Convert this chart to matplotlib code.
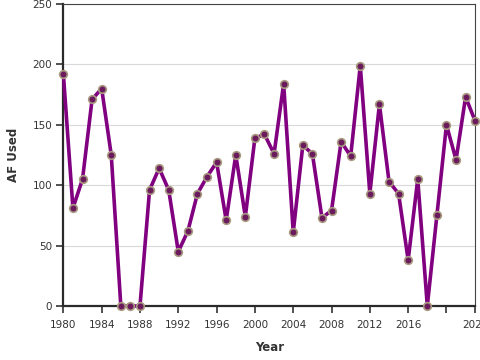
import numpy as np
import matplotlib
matplotlib.use("Agg")
import matplotlib.pyplot as plt

# Yearly water use (acre-feet)
years = list(range(1980, 2024))
af_used = [192, 81, 105, 171, 180, 125, 0, 0, 0, 96,
           114, 96, 45, 62, 93, 107, 119, 71, 125, 74,
           139, 142, 126, 184, 61, 133, 126, 73, 79, 136,
           124, 199, 93, 167, 103, 93, 38, 105, 0, 75,
           150, 121, 173, 153]

x_ticks = list(range(1980, 2021, 4)) + [2023]
x_tick_labels = [str(t) for t in range(1980, 2020, 4)] + ["", "2023"]
y_ticks = [0, 50, 100, 150, 200, 250]

fig = plt.figure(figsize=(4.8, 3.6), dpi=100)
ax = fig.add_axes([0.132, 0.15, 0.858, 0.839])

ax.plot(years, af_used, color="#800080", linewidth=2.6, zorder=3,
        marker="o", markersize=5.5, markerfacecolor="#6b1a5e",
        markeredgecolor="#a89a80", markeredgewidth=1.2, clip_on=False)

ax.set_xlim(1980, 2023)
ax.set_ylim(0, 250)
ax.set_xticks(x_ticks)
ax.set_xticklabels(x_tick_labels)
ax.set_yticks(y_ticks)
ax.grid(axis="y", color="#d9d9d9", linewidth=0.8, zorder=0)

for side in ["top", "right"]:
    ax.spines[side].set_color("#444444")
    ax.spines[side].set_linewidth(0.8)
for side in ["left", "bottom"]:
    ax.spines[side].set_color("#2a2a2a")
    ax.spines[side].set_linewidth(1.6)

ax.tick_params(axis="both", labelsize=7.5, colors="#333333", length=5,
               width=1.2, pad=3)
ax.tick_params(axis="x", pad=5)
for lbl in ax.get_xticklabels() + ax.get_yticklabels():
    lbl.set_clip_on(False)

ax.set_xlabel("Year", fontsize=8.5, fontweight="bold", color="#333333", labelpad=8)
ax.set_ylabel("AF Used", fontsize=8.5, fontweight="bold", color="#333333")
ax.yaxis.set_label_coords(-0.105, 0.5)

fig.savefig("out.png", dpi=100)
